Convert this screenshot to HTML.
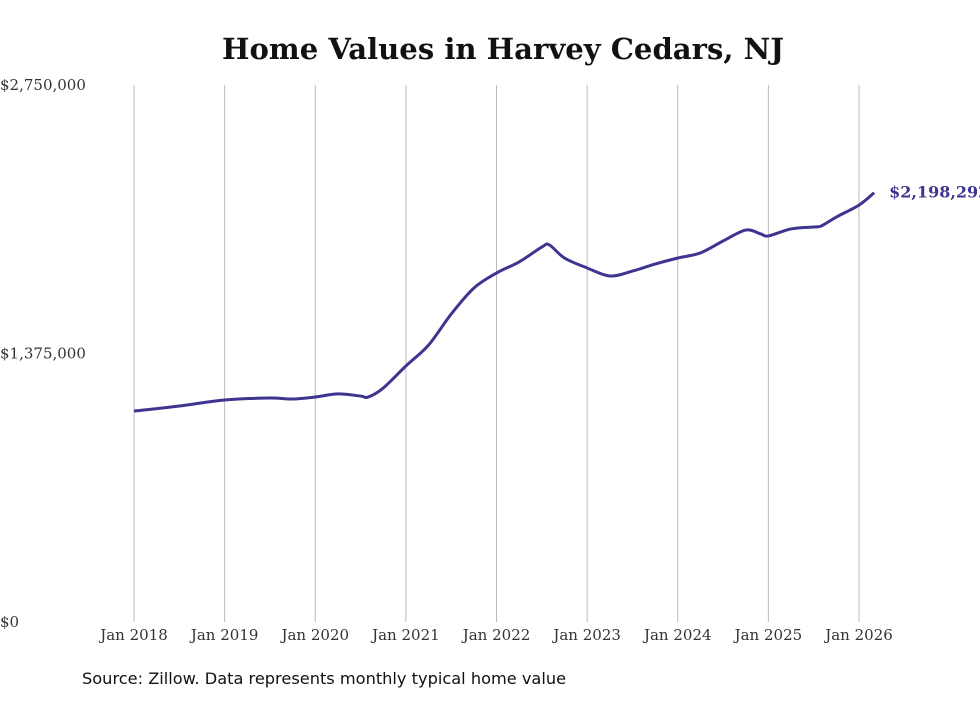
<!DOCTYPE html>
<html><head><meta charset="utf-8"><style>
body{margin:0;background:#fff;width:980px;height:699px;overflow:hidden}
svg text{font-family:"DejaVu Serif","Liberation Serif",serif}
</style></head><body>
<svg id="chart" width="980" height="699">
<text x="503" y="59" text-anchor="middle" font-size="29.1" font-weight="bold" fill="#111">Home Values in Harvey Cedars, NJ</text>
<g id="grid"></g><g id="yaxis"></g><g id="xaxis"></g><g id="series"></g>
<text x="82" y="684" font-size="16.2" fill="#111" style="font-family:'DejaVu Sans',sans-serif">Source: Zillow. Data represents monthly typical home value</text>
</svg>
<script>
const months=[0,6,12,18,21,24,27,30,31,33,36,39,42,45,48,51,54,55,57,60,63,66,69,72,75,78,81,83,84,87,90,91,93,96,98];
const values=[1080,1106,1137,1147,1142,1152,1168,1157,1152,1198,1311,1418,1577,1710,1787,1844,1920,1931,1864,1813,1772,1797,1833,1864,1890,1951,2007,1987,1977,2013,2023,2028,2074,2135,2198.292];
const yTicks=[0,1375000,2750000];
const yTickLabels=["$0","$1,375,000","$2,750,000"];
const xTickYears=[2018,2019,2020,2021,2022,2023,2024,2025,2026];
const lastLabel="$2,198,292";
const NS="http://www.w3.org/2000/svg";
const x=m=>134+m*(725/96);
const y=v=>622-v/2750000*537;
function mk(t,a,p,txt){const e=document.createElementNS(NS,t);for(const k in a)e.setAttribute(k,a[k]);if(txt!=null)e.textContent=txt;p.appendChild(e);return e;}
const grid=document.getElementById('grid'),xa=document.getElementById('xaxis'),ya=document.getElementById('yaxis'),se=document.getElementById('series');
xTickYears.forEach((yr,i)=>{const xx=x((yr-2018)*12);
const l=mk('line',{x1:xx,x2:xx,y1:85,y2:622,stroke:'#bbb','stroke-width':1},grid);


const t=mk('text',{x:xx,y:640,'text-anchor':'middle','font-size':15,fill:'#333'},xa,'Jan '+yr);

});
yTicks.forEach((v,i)=>{const t=mk('text',{x:0,y:y(v)+5,'font-size':15,fill:'#333'},ya,yTickLabels[i]);

});
const pts=months.map((m,i)=>[x(m),y(values[i]*1000)]);
let d='M'+pts[0][0]+','+pts[0][1];
for(let i=0;i<pts.length-1;i++){const p0=pts[Math.max(0,i-1)],p1=pts[i],p2=pts[i+1],p3=pts[Math.min(pts.length-1,i+2)];
const c1=[p1[0]+(p2[0]-p0[0])/6,p1[1]+(p2[1]-p0[1])/6],c2=[p2[0]-(p3[0]-p1[0])/6,p2[1]-(p3[1]-p1[1])/6];
d+=`C${c1[0]},${c1[1]} ${c2[0]},${c2[1]} ${p2[0]},${p2[1]}`;}
const path=mk('path',{d:d,fill:'none',stroke:'#3d3590','stroke-width':3,'stroke-linejoin':'round'},se);


const lp=pts[pts.length-1];
const lt=mk('text',{x:lp[0]+15,y:lp[1]+5,'font-size':16,'font-weight':'bold',fill:'#3d3590'},se,lastLabel);


</script>
</body></html>
